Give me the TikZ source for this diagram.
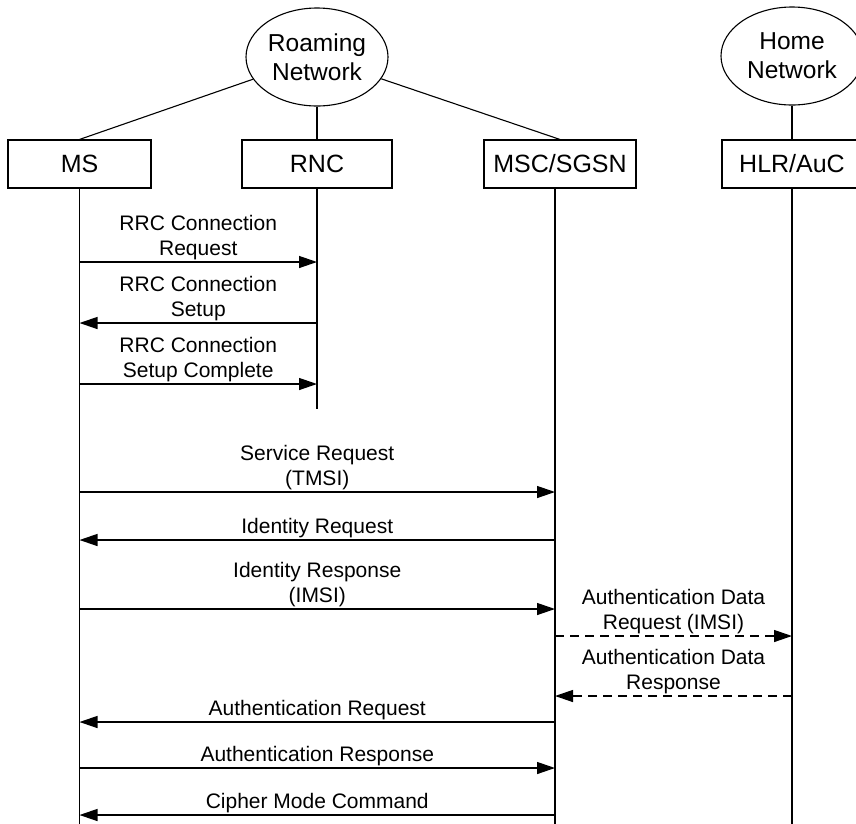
\documentclass[tikz,border=0pt]{standalone}
\usepackage{fontspec}
\setmainfont{Liberation Sans}
\usetikzlibrary{arrows.meta,shapes.geometric}
\begin{document}
\begin{tikzpicture}[x=1pt,y=-1pt,
  ent/.style={draw,line width=1.1pt,minimum width=146pt,minimum height=48pt,inner sep=0pt,font=\fontsize{25}{29}\selectfont},
  net/.style={draw,ellipse,line width=1.1pt,inner sep=0pt,minimum width=142pt,minimum height=98pt,align=center,font=\fontsize{24.5}{29}\selectfont},
  conn/.style={line width=1.1pt},
  msg/.style={line width=1.3pt,-{Triangle[length=18pt,width=12pt]}},
  dmsg/.style={msg,dash pattern=on 9pt off 6pt},
  lbl/.style={align=center,inner sep=1.2pt,font=\fontsize{21}{25}\selectfont}]
\useasboundingbox (0,0) rectangle (856,823);
\clip (0,0) rectangle (856,823);
% networks
\node[net] (roam) at (317,57) {Roaming\\Network};
\node[net] (home) at (792,56) {Home\\Network};
% entities
\node[ent,minimum width=143pt] (ms) at (79.5,164) {MS};
\node[ent,minimum width=150pt] (rnc) at (317,164) {RNC};
\node[ent,minimum width=152pt] (msc) at (560,164) {MSC/SGSN};
\node[ent,minimum width=140pt] (hlr) at (792,164) {HLR/AuC};
% links
\draw[conn] (roam) -- (ms.north);
\draw[conn] (roam.south) -- (rnc.north);
\draw[conn] (roam) -- (msc.north);
\draw[conn] (home.south) -- (hlr.north);
% lifelines
\coordinate (msE) at (79.5,830);
\coordinate (rncE) at (317,409);
\coordinate (mscT) at (555,188);
\coordinate (mscE) at (555,830);
\coordinate (hlrE) at (792,830);
\draw[conn] (ms.south) -- (msE);
\draw[conn] (rnc.south) -- (rncE);
\draw[conn] (mscT) -- (mscE);
\draw[conn] (hlr.south) -- (hlrE);
% message end points
\coordinate (a1) at (79.5,262); \coordinate (b1) at (317,262);
\coordinate (a2) at (79.5,323); \coordinate (b2) at (317,323);
\coordinate (a3) at (79.5,384); \coordinate (b3) at (317,384);
\coordinate (a4) at (79.5,492); \coordinate (b4) at (555,492);
\coordinate (a5) at (79.5,540); \coordinate (b5) at (555,540);
\coordinate (a6) at (79.5,609); \coordinate (b6) at (555,609);
\coordinate (a7) at (555,636);  \coordinate (b7) at (792,636);
\coordinate (a8) at (555,696);  \coordinate (b8) at (792,696);
\coordinate (a9) at (79.5,722); \coordinate (b9) at (555,722);
\coordinate (a10) at (79.5,768); \coordinate (b10) at (555,768);
\coordinate (a11) at (79.5,815); \coordinate (b11) at (555,815);
% messages
\draw[msg] (a1) -- (b1) node[midway,above,lbl] {RRC Connection\\Request};
\draw[msg] (b2) -- (a2) node[midway,above,lbl] {RRC Connection\\Setup};
\draw[msg] (a3) -- (b3) node[midway,above,lbl] {RRC Connection\\Setup Complete};
\draw[msg] (a4) -- (b4) node[midway,above,lbl] {Service Request\\(TMSI)};
\draw[msg] (b5) -- (a5) node[midway,above,lbl] {Identity Request};
\draw[msg] (a6) -- (b6) node[midway,above,lbl] {Identity Response\\(IMSI)};
\draw[dmsg] (a7) -- (b7) node[midway,above,lbl] {Authentication Data\\Request (IMSI)};
\draw[dmsg] (b8) -- (a8) node[midway,above,lbl] {Authentication Data\\Response};
\draw[msg] (b9) -- (a9) node[midway,above,lbl] {Authentication Request};
\draw[msg] (a10) -- (b10) node[midway,above,lbl] {Authentication Response};
\draw[msg] (b11) -- (a11) node[midway,above,lbl] {Cipher Mode Command};
\end{tikzpicture}
\end{document}
